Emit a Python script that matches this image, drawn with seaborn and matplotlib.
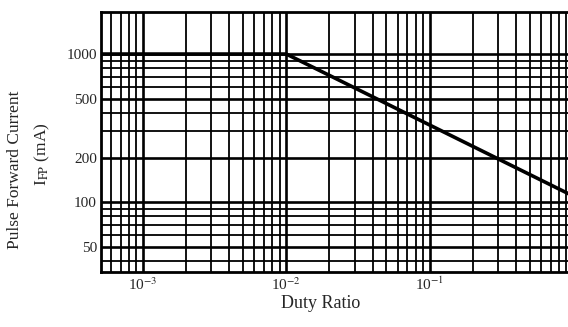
import numpy as np
import pandas as pd
import seaborn as sns
import matplotlib
matplotlib.use("Agg")
import matplotlib.pyplot as plt
from matplotlib.ticker import FixedLocator, NullFormatter

# data
duty = [5e-4, 1e-2, 1.0]
current = [1000, 1000, 110]

x_major = [1e-3, 1e-2, 1e-1]
x_major_labels = ["10$^{-3}$", "10$^{-2}$", "10$^{-1}$"]
y_major = [50, 100, 200, 500, 1000]
y_major_labels = ["50", "100", "200", "500", "1000"]

sns.set_style("white")
plt.rcParams["font.family"] = ["Liberation Serif", "DejaVu Serif"]
plt.rcParams["mathtext.fontset"] = "stix"

fig = plt.figure(figsize=(5.68, 3.27), dpi=100)
# right edge sits just past the figure, like the cropped scan
ax = fig.add_axes([101 / 568, 55 / 327, 472 / 568, 260 / 327])

df = pd.DataFrame({"duty": duty, "current": current})
sns.lineplot(data=df, x="duty", y="current", ax=ax, color="black", linewidth=2.6)

ax.set_xscale("log")
ax.set_yscale("log")
ax.set_xlim(5.1e-4, 1.0)
ax.set_ylim(33.7, 1923)

# dense log grid
x_minor = [m * 10.0 ** e for e in (-4, -3, -2, -1) for m in range(2, 10)]
y_minor = [m * 10.0 ** e for e in (1, 2) for m in range(2, 10)]
ax.xaxis.set_major_locator(FixedLocator(x_major + [1.0]))
ax.xaxis.set_minor_locator(FixedLocator(x_minor))
ax.xaxis.set_minor_formatter(NullFormatter())
ax.set_xticklabels(x_major_labels + [""])

ax.yaxis.set_major_locator(FixedLocator(y_major))
ax.yaxis.set_minor_locator(FixedLocator([v for v in y_minor if v not in y_major]))
ax.yaxis.set_minor_formatter(NullFormatter())
ax.set_yticklabels(y_major_labels)

ax.grid(True, which="major", color="black", linewidth=1.9)
ax.grid(True, which="minor", color="black", linewidth=1.3)
ax.tick_params(axis="both", which="both", length=0, labelsize=11, pad=3)

for s in ax.spines.values():
    s.set_color("black")
    s.set_linewidth(2)

ax.set_xlabel("")
ax.set_ylabel("")
fig.text(321 / 568, 1 - 304 / 327, "Duty Ratio", ha="center", va="center", fontsize=13)
fig.text(15 / 568, 1 - 170 / 327, "Pulse Forward Current", rotation=90,
         ha="center", va="center", fontsize=12.5)
fig.text(42 / 568, 1 - 154 / 327, r"I$_{\mathrm{FP}}$ (mA)", rotation=90,
         ha="center", va="center", fontsize=12.5)

fig.savefig("out.png", dpi=100)
